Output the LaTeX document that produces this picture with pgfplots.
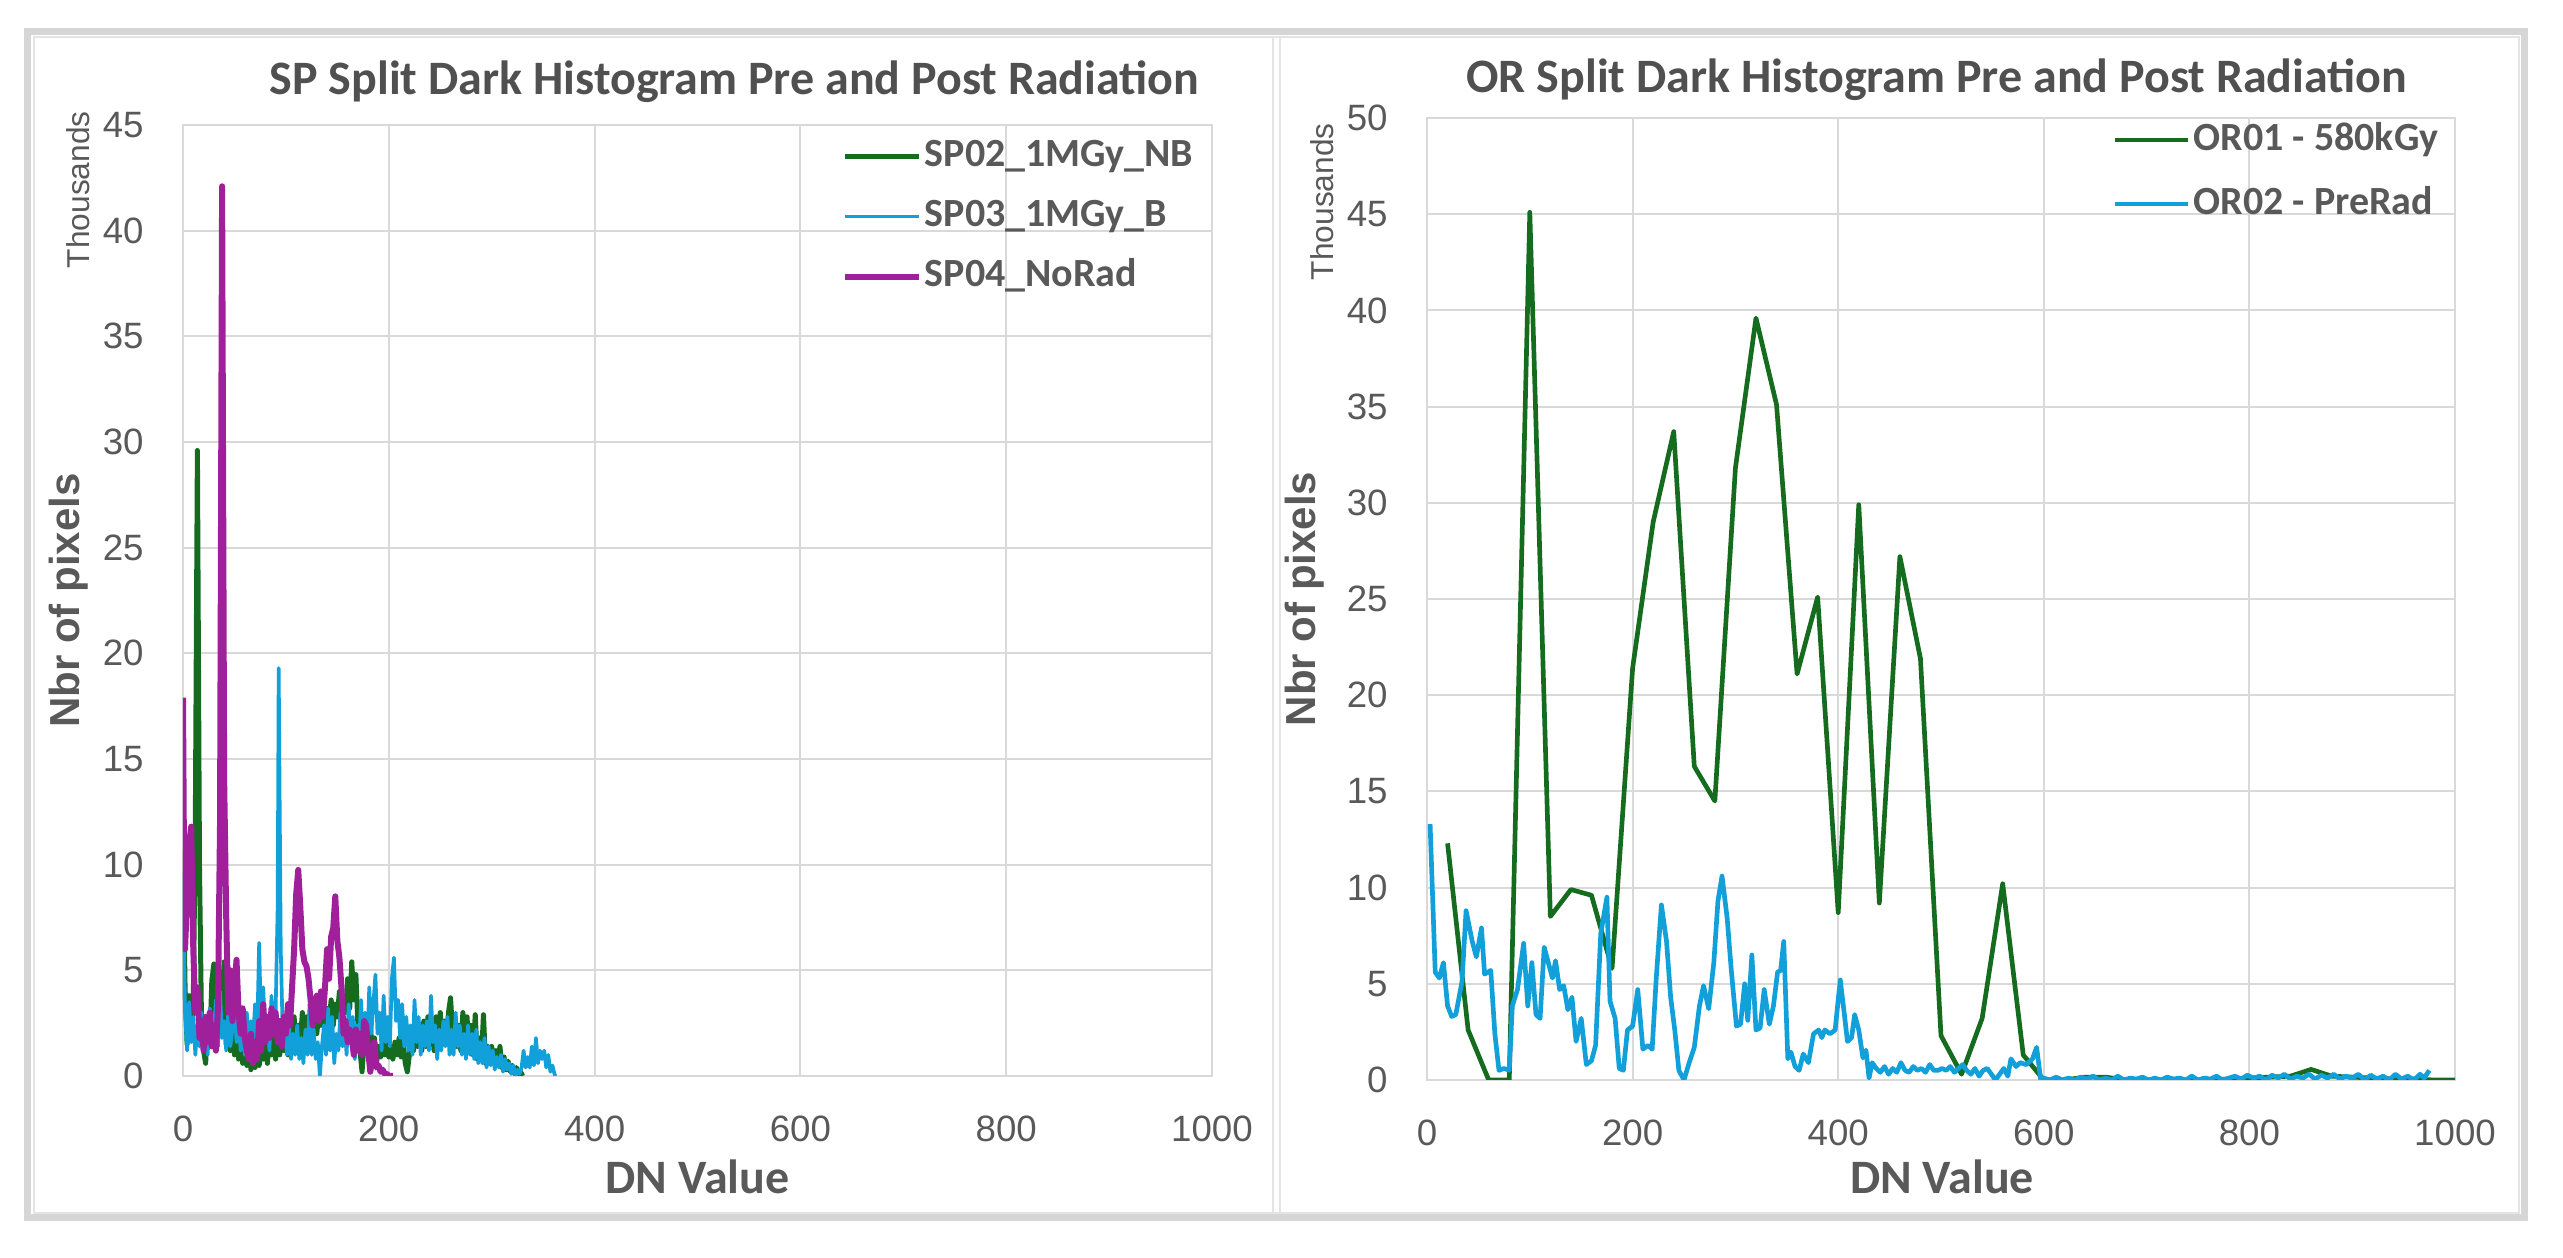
\documentclass[border=0pt]{standalone}
\usepackage{pgfplots}
\pgfplotsset{compat=1.18}
\usepackage{pgfplotstable}
\usepackage{fontspec}
\setmainfont{Carlito}
\newfontfamily\arialf{Liberation Sans}

\definecolor{cgreen}{HTML}{156B1E}
\definecolor{cblue}{HTML}{12A0DA}
\definecolor{cmag}{HTML}{A0209B}
\definecolor{ctext}{HTML}{595959}
\definecolor{ctitle}{HTML}{505050}
\definecolor{cgrid}{HTML}{D9D9D9}
\definecolor{cframe}{HTML}{D6D6D6}

\pgfplotstableread{
x y
0 10.7
2 4.2
4 1.5
6 3.8
8 2.0
10 3.5
12 12.0
14 29.6
16 10.0
18 2.5
20 1.2
22 0.6
24 2.8
26 1.4
28 4.5
30 5.3
32 2.2
34 4.8
36 2.0
38 3.6
40 5.4
42 1.5
44 3.2
46 1.2
48 2.5
50 1.0
52 4.8
54 0.8
56 2.0
58 0.6
60 1.8
62 0.5
64 1.5
66 0.3
68 1.2
70 0.4
72 1.6
74 0.5
76 1.2
78 0.8
80 2.0
82 0.6
84 1.8
86 1.0
88 2.4
90 0.8
92 2.0
94 1.0
96 2.5
98 1.2
100 2.2
102 1.0
104 2.6
106 1.4
108 2.8
110 1.2
112 2.4
114 1.6
116 3.0
118 1.5
120 2.8
122 1.8
124 3.2
126 2.0
128 3.4
130 2.0
132 3.0
134 2.4
136 3.6
138 2.2
140 3.2
142 2.6
144 3.6
146 2.4
148 3.4
150 2.8
152 4.0
154 2.4
156 3.6
158 3.0
160 4.6
162 3.2
164 5.4
166 3.6
168 4.8
170 2.4
172 1.2
174 0.2
176 1.6
178 2.2
180 1.0
182 2.6
184 0.8
186 1.8
188 0.6
190 1.4
192 0.9
194 1.6
196 1.0
198 1.8
200 0.9
202 1.4
204 0.8
206 1.6
208 1.0
210 1.8
212 0.9
214 1.6
216 0.6
218 0.2
220 1.0
222 1.8
224 1.2
226 2.0
228 1.4
230 2.2
232 1.2
234 2.6
236 1.4
238 2.8
240 1.6
242 2.4
244 1.2
246 2.8
248 1.6
250 3.0
252 1.8
254 2.6
256 1.6
258 3.0
260 3.7
262 2.0
264 2.8
266 1.4
268 2.4
270 1.2
272 3.0
274 1.4
276 2.8
278 1.2
280 2.4
282 1.0
284 2.9
286 0.8
288 1.8
290 0.8
292 2.9
294 0.6
296 1.4
298 0.8
300 1.4
302 0.6
304 1.2
306 0.5
308 1.4
310 0.4
312 0.9
314 0.3
316 0.7
318 0.2
320 0.5
322 0.1
324 0.4
326 0.1
328 0.2
330 0.0
}\spgreen

\pgfplotstableread{
x y
0 9.7
2 3.0
4 1.2
6 3.5
8 1.6
10 2.8
12 1.0
14 2.4
16 1.4
18 3.0
20 1.2
22 2.6
24 1.0
26 3.2
28 1.6
30 2.0
32 3.6
34 1.4
36 4.0
38 1.8
40 2.6
42 1.2
44 3.0
46 1.4
48 2.2
50 3.6
52 1.6
54 2.8
56 1.2
58 2.4
60 1.0
62 3.0
64 1.4
66 2.6
68 1.6
70 3.4
72 1.8
74 6.3
76 2.0
78 4.2
80 1.6
82 2.8
84 1.2
86 3.8
88 2.0
90 3.0
92 8.0
93 19.3
95 6.0
97 1.8
99 2.6
101 1.0
103 2.4
105 0.8
107 2.0
109 1.0
111 2.4
113 0.8
115 1.8
117 0.6
119 2.2
121 1.0
123 3.4
125 1.0
127 2.2
129 0.8
131 1.6
133 0.0
135 1.4
137 2.4
139 1.0
141 3.2
143 1.2
145 2.8
147 0.6
149 2.0
151 1.2
153 3.0
155 1.4
157 2.4
159 1.0
161 3.4
163 1.6
165 2.8
167 0.8
169 2.4
171 1.2
173 3.6
175 1.6
177 3.0
179 1.2
181 4.2
183 2.0
185 3.4
187 4.8
189 2.0
191 3.0
193 1.2
195 3.8
197 1.6
199 2.8
201 1.4
203 4.6
205 5.6
207 2.6
209 3.6
211 1.8
213 3.4
215 1.4
217 2.8
219 1.2
221 2.4
223 1.0
225 3.6
227 1.6
229 2.8
231 1.0
233 2.4
235 1.4
237 2.6
239 1.2
241 3.8
243 1.6
245 2.4
247 0.8
249 2.2
251 1.2
253 2.6
255 1.4
257 2.8
259 1.0
261 2.2
263 1.0
265 3.0
267 1.4
269 2.4
271 1.0
273 2.0
275 0.8
277 2.4
279 1.0
281 2.0
283 0.8
285 2.2
287 0.6
289 1.6
291 0.6
293 1.8
295 0.4
297 1.4
299 0.5
301 1.2
303 0.3
305 0.9
307 0.4
309 1.0
311 0.2
313 0.8
315 0.3
317 0.6
319 0.1
321 0.5
323 0.0
325 0.3
327 0.1
329 0.4
331 1.2
333 0.4
335 0.9
337 0.4
339 1.4
341 0.5
343 1.8
345 0.6
347 1.2
349 0.8
351 1.2
353 0.4
355 1.0
357 0.2
359 0.5
361 0.1
362 0.0
}\spblue

\pgfplotstableread{
x y
0 17.9
1 10.0
2 6.0
4 8.5
6 11.0
8 11.8
10 6.0
12 3.0
14 4.2
16 1.8
18 2.6
20 1.2
22 2.8
24 1.6
26 3.0
28 1.4
30 2.4
32 1.2
34 3.2
36 12.0
38 42.1
40 14.0
42 7.5
44 3.0
46 5.0
48 2.6
50 4.0
52 5.5
54 3.0
56 2.0
58 3.2
60 1.8
62 1.2
64 0.8
66 2.0
68 0.6
70 1.6
72 0.8
74 2.6
76 1.2
78 3.4
80 1.6
82 2.8
84 1.8
86 3.2
88 2.0
90 3.0
92 1.6
94 2.6
96 1.4
98 2.8
100 2.0
102 3.4
104 2.4
106 4.2
108 6.0
110 8.6
112 9.75
114 8.0
116 6.0
118 5.4
120 5.2
122 4.6
124 3.6
126 2.4
128 3.0
130 3.8
132 2.6
134 4.0
136 2.8
138 4.2
140 6.0
142 4.6
144 6.6
146 7.0
148 8.5
150 6.4
152 5.6
154 4.2
156 2.0
158 2.6
160 1.6
162 2.2
164 1.8
166 1.0
168 2.2
170 1.2
172 2.0
174 1.0
176 2.6
178 2.4
180 1.2
182 0.2
184 0.8
186 1.6
188 0.4
190 0.5
192 0.2
194 0.3
196 0.1
198 0.1
200 0.0
204 0.0
}\spmag

\pgfplotstableread{
x y
20 12.3
40 2.6
60 0
80 0
100 45.1
120 8.5
140 9.9
160 9.6
180 5.8
200 21.4
220 29.0
240 33.7
260 16.3
280 14.5
300 31.8
320 39.6
340 35.1
360 21.1
380 25.1
400 8.7
420 29.9
440 9.2
460 27.2
480 21.9
500 2.3
520 0.3
540 3.2
560 10.2
580 1.3
600 0
620 0
640 0.15
660 0.15
680 0
700 0
720 0
740 0
760 0
780 0.05
800 0.1
820 0.15
840 0.2
860 0.55
880 0.2
900 0.15
920 0.1
940 0.05
960 0.05
980 0
1000 0
}\orgreen

\pgfplotstableread{
x y
3 13.3
8 5.6
12 5.3
16 6.1
20 3.85
24 3.3
28 3.4
34 5.1
38 8.8
44 7.2
48 6.4
53 7.9
56 5.5
62 5.7
66 2.4
70 0.5
75 0.6
80 0.5
83 3.85
88 4.7
94 7.1
98 3.85
102 6.1
106 3.4
110 3.2
114 6.9
118 6.1
122 5.3
125 6.2
129 4.7
133 4.9
137 3.65
141 4.3
145 2.0
150 3.2
155 0.8
160 1.0
164 1.8
169 7.6
175 9.5
178 4.1
183 3.2
187 0.6
191 0.5
195 2.6
200 2.8
205 4.7
210 1.6
215 1.8
219 1.6
223 5.3
228 9.1
233 7.2
237 4.3
241 2.6
245 0.5
250 0.0
255 0.9
260 1.7
265 3.85
269 4.9
274 3.7
279 6.1
283 9.3
287 10.6
292 8.4
296 5.7
301 2.8
305 2.9
309 5.0
312 3.1
316 6.5
320 2.6
324 2.7
328 4.7
333 2.9
337 3.85
341 5.6
344 5.7
347 7.2
351 1.1
354 1.45
358 0.7
362 0.5
366 1.35
371 0.9
376 2.4
381 2.6
384 2.2
387 2.6
392 2.4
397 2.6
402 5.2
406 3.4
409 2.0
413 2.2
416 3.4
420 2.6
424 1.15
427 1.55
430 0.1
433 0.9
437 0.6
441 0.4
445 0.7
449 0.3
453 0.6
457 0.4
461 0.9
465 0.5
469 0.4
473 0.7
477 0.5
481 0.6
485 0.4
489 0.8
493 0.5
497 0.5
501 0.6
505 0.5
509 0.7
513 0.4
517 0.6
521 0.8
525 0.5
529 0.3
533 0.6
537 0.2
541 0.5
545 0.6
549 0.3
553 0.0
557 0.3
561 0.6
565 0.2
568 1.1
573 0.7
577 0.9
583 0.8
589 1.1
593 1.7
597 0.0
600 0.1
606 0.0
612 0.15
618 0.0
624 0.1
630 0.0
636 0.15
642 0.05
648 0.2
654 0.0
660 0.1
666 0.0
672 0.2
678 0.0
684 0.1
690 0.05
696 0.15
702 0.0
708 0.1
714 0.0
720 0.15
726 0.05
732 0.1
738 0.0
744 0.2
750 0.0
756 0.1
762 0.05
768 0.2
774 0.0
780 0.1
786 0.2
792 0.05
798 0.25
804 0.1
810 0.2
816 0.0
822 0.25
828 0.1
834 0.3
840 0.05
846 0.2
852 0.1
858 0.3
864 0.05
870 0.25
876 0.1
882 0.3
888 0.05
894 0.2
900 0.1
906 0.3
912 0.0
918 0.25
924 0.05
930 0.2
936 0.0
942 0.3
948 0.05
954 0.2
960 0.0
966 0.3
970 0.1
975 0.5
}\orblue

\pgfplotsset{
  chartbase/.style={
    scale only axis,
    clip mode=individual,
    xmin=0, xmax=1000, ymin=0,
    xtick={0,200,...,1000},
    grid=major,
    grid style={draw=cgrid, line width=0.6bp},
    axis line style={draw=cgrid, line width=0.6bp},
    major tick length=0pt,
    tick label style={font=\arialf\fontsize{11bp}{13bp}\selectfont, text=ctext},
    /pgf/number format/assume math mode=true,
    /pgf/number format/1000 sep={},
    yticklabel style={anchor=east, xshift=-8.3bp},
    xticklabel style={anchor=north, yshift=-8.3bp},
    title style={font=\bfseries\fontsize{14.4bp}{17bp}\selectfont, text=ctitle, anchor=base, yshift=-6pt},
    xlabel style={font=\bfseries\fontsize{14.4bp}{17bp}\selectfont, text=ctext, anchor=base},
    ylabel style={font=\arialf\bfseries\fontsize{12.6bp}{15bp}\selectfont, text=ctext, anchor=center},
    legend style={draw=none, fill=none, anchor=north west,
      font=\bfseries\fontsize{12bp}{14bp}\selectfont, text=ctext,
      inner sep=0pt, nodes={inner sep=1bp, text height=9bp, text depth=3bp}},
    legend cell align=left,
    legend image code/.code={\draw[##1] (0bp,0bp) -- (22bp,0bp);},
    every axis plot/.append style={line join=round, mark=none},
  }
}

\begin{document}
\begin{tikzpicture}
\path[use as bounding box] (0,0) rectangle (768.9bp,377.1bp);
\begin{scope}[x=0.3bp, y=-0.3bp, shift={(0,377.1bp)}]
  \draw[cframe, line width=2.1bp] (28,32) rectangle (2525,1218);
  \draw[cgrid!70, line width=0.45bp] (34,37) rectangle (2519,1213);
  \draw[cgrid!70, line width=0.45bp] (1273,37) -- (1273,1213);
  \draw[cgrid!70, line width=0.45bp] (1280,37) -- (1280,1213);
\end{scope}

\begin{axis}[chartbase,
  at={(54.9bp,54.3bp)}, anchor=south west,
  width=308.7bp, height=285.3bp,
  ymax=45, ytick={0,5,...,45},
  title={SP Split Dark Histogram Pre and Post Radiation},
  title style={at={(axis description cs:0.536,1.0326)}},
  xlabel={DN Value},
  xlabel style={at={(axis description cs:0.5,-0.124)}},
  ylabel={Nbr of pixels},
  ylabel style={at={(axis description cs:-0.111,0.5)}},
  legend style={at={(axis description cs:0.640,0.992)}, row sep=4bp},
]
\addplot[cgreen, line width=1.5bp] table {\spgreen};
\addlegendentry{SP02\_1MGy\_NB}
\addplot[cblue, line width=1.1bp] table {\spblue};
\addlegendentry{SP03\_1MGy\_B}
\addplot[cmag, line width=1.8bp] table {\spmag};
\addlegendentry{SP04\_NoRad}
\node[rotate=90, font=\arialf\fontsize{9.5bp}{11bp}\selectfont, text=ctext] at (axis description cs:-0.102,0.932) {Thousands};
\end{axis}

\begin{axis}[chartbase,
  at={(428.1bp,53.1bp)}, anchor=south west,
  width=308.4bp, height=288.6bp,
  ymax=50, ytick={0,5,...,50},
  title={OR Split Dark Histogram Pre and Post Radiation},
  title style={at={(axis description cs:0.496,1.027)}},
  xlabel={DN Value},
  xlabel style={at={(axis description cs:0.501,-0.1185)}},
  ylabel={Nbr of pixels},
  ylabel style={at={(axis description cs:-0.119,0.5)}},
  legend style={at={(axis description cs:0.666,1.002)}, row sep=5.2bp},
]
\addplot[cgreen, line width=1.4bp] table {\orgreen};
\addlegendentry{OR01 - 580kGy}
\addplot[cblue, line width=1.4bp] table {\orblue};
\addlegendentry{OR02 - PreRad}
\node[rotate=90, font=\arialf\fontsize{9.5bp}{11bp}\selectfont, text=ctext] at (axis description cs:-0.102,0.913) {Thousands};
\end{axis}
\end{tikzpicture}
\end{document}
